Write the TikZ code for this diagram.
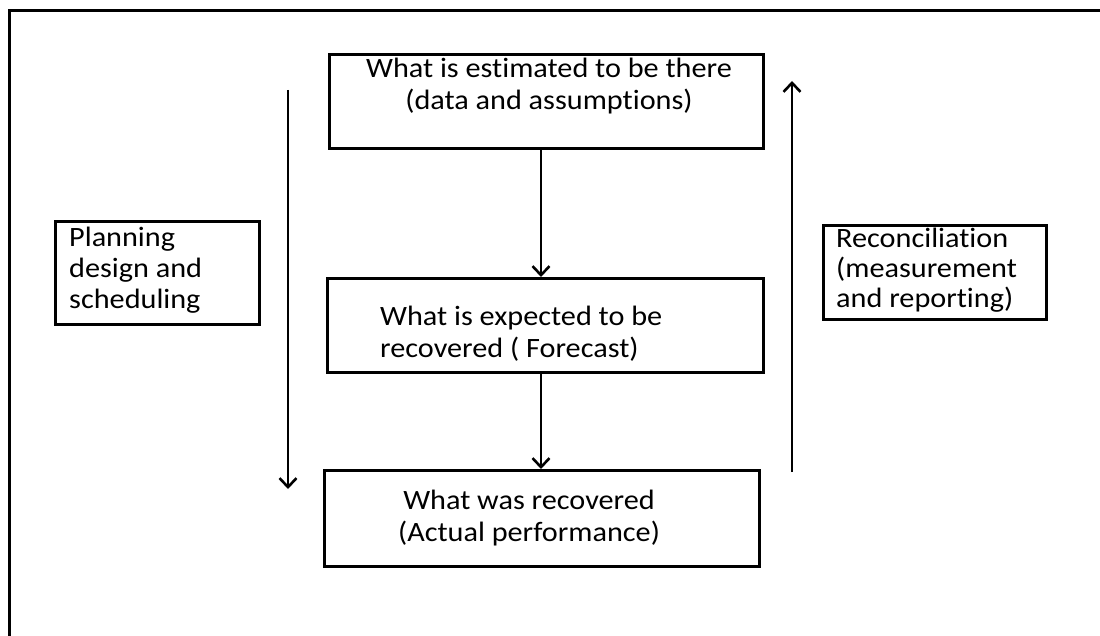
\documentclass[tikz,border=0pt]{standalone}
\usepackage{fontspec}
\setmainfont{Carlito}[FakeStretch=1.08,Ligatures=NoCommon]
\usetikzlibrary{arrows.meta}
\begin{document}
\begin{tikzpicture}[x=1pt,y=-1pt,
  box/.style={draw,line width=2.6pt,inner sep=0pt,anchor=north west},
  txt/.style={inner sep=0pt,font=\fontsize{28}{32}\selectfont},
  arr/.style={line width=2.6pt,-{Straight Barb[length=9pt,width=17pt]}}]
\useasboundingbox (0,0) rectangle (1100,636);
\clip (0,0) rectangle (1100,636);
\fill[white] (0,0) rectangle (1100,636);
% outer frame (runs off the right and bottom edges)
\draw[line width=3pt] (9,11) rectangle (1130,670);
% main boxes
\node[box,minimum width=434pt,minimum height=94pt] (top) at (328,53) {};
\node[box,minimum width=436pt,minimum height=94pt] (mid) at (326,277) {};
\node[box,minimum width=435pt,minimum height=96pt] (bot) at (323,469) {};
\node[txt,align=center,anchor=north] (toptxt) at (549,58) {What is estimated to be there\\(data and assumptions)};
\node[txt,align=left,anchor=north west] (midtxt) at (380,306) {What is expected to be\\recovered ( Forecast)};
\node[txt,align=center,anchor=north] (bottxt) at (529,490) {What was recovered\\(Actual performance)};
% side labels
\node[box,minimum width=204pt,minimum height=103pt] (plan) at (54,220) {};
\node[txt,align=left,anchor=north west,font=\fontsize{28}{31}\selectfont] (plantxt) at (69,227) {Planning\\design and\\scheduling};
\node[box,minimum width=223pt,minimum height=94pt] (rec) at (822,224) {};
\node[txt,align=left,anchor=north west,font=\fontsize{28}{30}\selectfont] (rectxt) at (836,228) {Reconciliation\\(measurement\\and reporting)};
% connectors
\coordinate (ax) at (541,0);
\draw[arr] (top.south -| ax) -- (mid.north -| ax);
\draw[arr] (mid.south -| ax) -- (bot.north -| ax);
\coordinate (ls) at (288,90);
\coordinate (le) at (288,489);
\draw[arr] (ls) -- (le);
\coordinate (rs) at (792,472);
\coordinate (re) at (792,81);
\draw[arr] (rs) -- (re);
\end{tikzpicture}
\end{document}
